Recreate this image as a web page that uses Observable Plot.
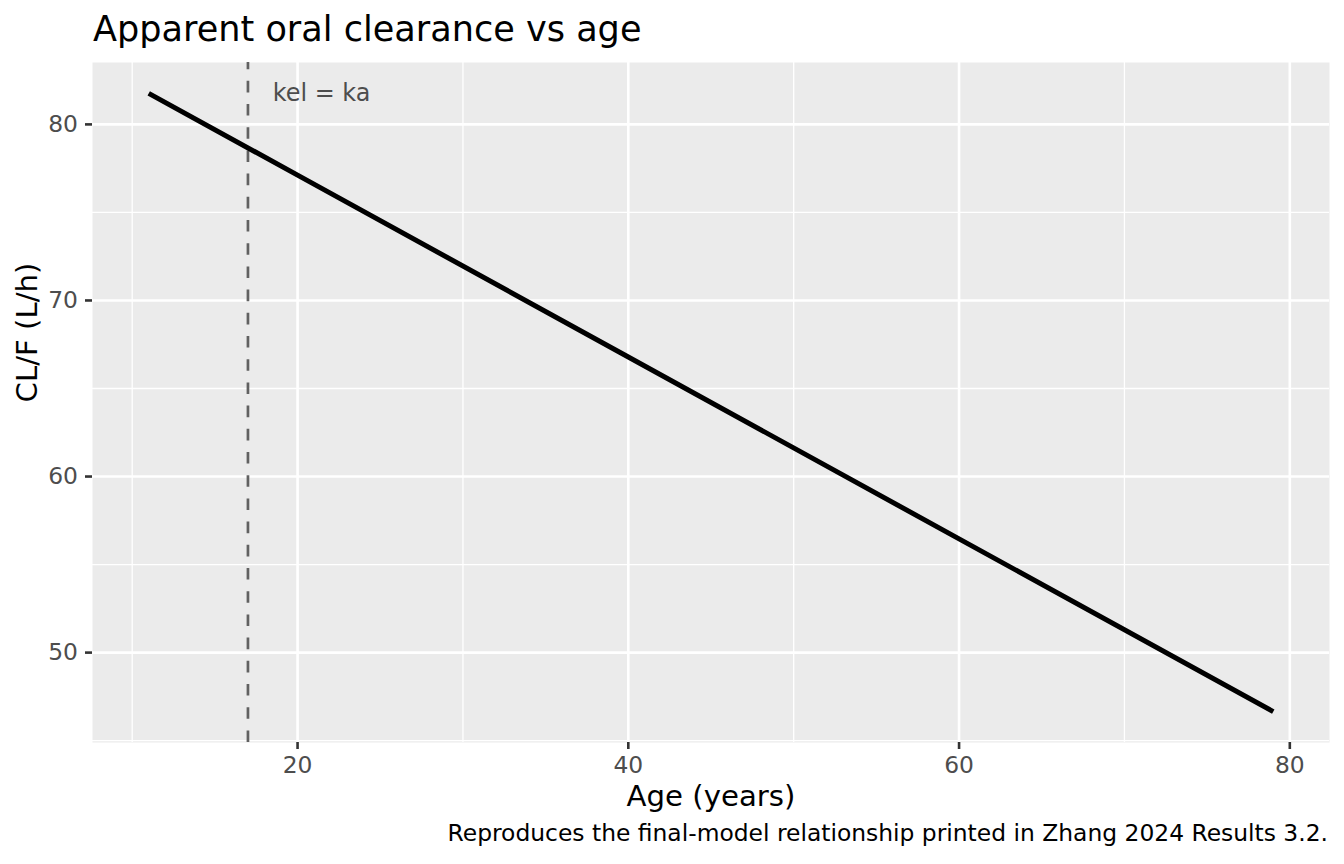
<!DOCTYPE html>
<html>
<head>
<meta charset="utf-8">
<script src="https://cdn.jsdelivr.net/npm/d3@7"></script>
<script src="https://cdn.jsdelivr.net/npm/@observablehq/plot@0.6"></script>
<style>
  html, body { margin: 0; padding: 0; background: #ffffff; }
  body { width: 1344px; height: 864px; overflow: hidden; font-family: "DejaVu Sans", sans-serif; }
  #title { box-sizing: border-box; height: 52px; padding: 11.3px 0 0 93px; font-size: 35.1px; line-height: 1; color: #000; white-space: nowrap; }
  #caption { box-sizing: border-box; height: 49px; padding: 7.2px 16px 0 0; font-size: 23.4px; line-height: 1; color: #000; text-align: right; white-space: nowrap; }
  #chart svg { display: block; }
</style>
</head>
<body>
<div id="title">Apparent oral clearance vs age</div>
<div id="chart"></div>
<div id="caption">Reproduces the final-model relationship printed in Zhang 2024 Results 3.2.</div>
<script>
// Data
const ages = [11, 20, 40, 60, 79];
const clearance = [81.76, 77.12, 66.79, 56.46, 46.65];
const xTicks = [20, 40, 60, 80];
const xMinor = [10, 30, 50, 70];
const yTicks = [50, 60, 70, 80];
const yMinor = [45, 55, 65, 75];
const kelKaAge = 17;
const kelKaLabel = "kel = ka";
const xLabel = "Age (years)";
const yLabel = "CL/F (L/h)";

const data = ages.map((a, i) => ({age: a, cl: clearance[i]}));

function expand(ext, f = 0.05) {
  const d = ext[1] - ext[0];
  return [ext[0] - d * f, ext[1] + d * f];
}
const xDomain = expand(d3.extent(ages));
const yDomain = expand(d3.extent(clearance));

const tickFont = 23.4;
const chart = Plot.plot({
  width: 1344,
  height: 763,
  marginTop: 10,
  marginBottom: 73,
  marginLeft: 92,
  marginRight: 15,
  style: {fontFamily: "DejaVu Sans", background: "transparent", overflow: "visible"},
  x: {domain: xDomain},
  y: {domain: yDomain},
  marks: [
    Plot.frame({fill: "#EBEBEB", stroke: null}),
    Plot.gridX(xMinor, {stroke: "#ffffff", strokeOpacity: 1, strokeWidth: 1.3}),
    Plot.gridY(yMinor, {stroke: "#ffffff", strokeOpacity: 1, strokeWidth: 1.3}),
    Plot.gridX(xTicks, {stroke: "#ffffff", strokeOpacity: 1, strokeWidth: 2.6}),
    Plot.gridY(yTicks, {stroke: "#ffffff", strokeOpacity: 1, strokeWidth: 2.6}),
    Plot.ruleX([kelKaAge], {x: d => d, y1: yDomain[0], y2: yDomain[1], stroke: "#616161", strokeWidth: 2.7, strokeDasharray: "11.6,11.6"}),
    Plot.line(data, {x: "age", y: "cl", stroke: "#000000", strokeWidth: 5, strokeLinecap: "butt", strokeLinejoin: "round"}),
    Plot.text([kelKaLabel], {x: kelKaAge + 1.5, y: d3.max(clearance), text: d => d, textAnchor: "start", lineAnchor: "middle", fontSize: 23.9, fill: "#4D4D4D"}),
    Plot.axisX(xTicks, {tickSize: 7, tickPadding: 6.6, fontSize: tickFont, fill: "#4D4D4D", stroke: "#333333", strokeWidth: 2.6, label: null}),
    Plot.axisY(yTicks, {tickSize: 7, tickPadding: 7.5, fontSize: tickFont, fill: "#4D4D4D", stroke: "#333333", strokeWidth: 2.6, label: null}),
    Plot.text([xLabel], {frameAnchor: "bottom", dy: 63, text: d => d, lineAnchor: "bottom", fontSize: 29.2, fill: "#000000"}),
    Plot.text([yLabel], {frameAnchor: "left", dx: -55.3, rotate: -90, text: d => d, lineAnchor: "bottom", fontSize: 29.2, fill: "#000000"})
  ]
});
document.getElementById("chart").appendChild(chart);
</script>
</body>
</html>
